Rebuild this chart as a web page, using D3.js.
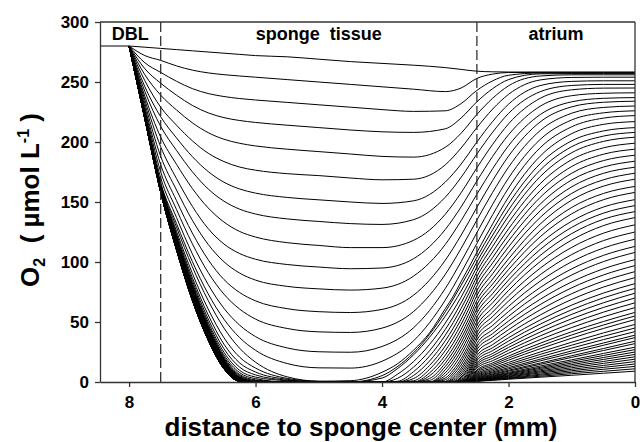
<!DOCTYPE html>
<html><head><meta charset="utf-8">
<script src="https://cdn.jsdelivr.net/npm/d3@7"></script>
<style>
html,body{margin:0;padding:0;background:#fff;}
svg{display:block;}
text{font-family:"Liberation Sans",Arial,Helvetica,sans-serif;font-weight:bold;fill:#000;}
</style></head><body>
<svg id="chart" width="642" height="442"></svg>
<script>
// distance to sponge center (mm) at which each profile is sampled
const xGrid = [8, 7.75, 7.5, 7.25, 7, 6.75, 6.5, 6.25, 6, 5.5, 5, 4.5, 4, 3.5, 3, 2.75, 2.5, 2.25, 2, 1.5, 1, 0.5, 0];
// extra samples near the tissue/atrium boundary (profiles 15..67)
const fineX = [3.75, 3.25, 2.875, 2.625];
// bulk seawater above the DBL
const bulkX = [8.46, 8];
const bulkO2 = 280;
// region boundaries (mm) and labels
const regionEdges = [8.46, 7.5, 2.5, 0];
const regionLabels = ["DBL", "sponge\u00a0\u00a0tissue", "atrium"];
const dashedBoundaries = [7.5, 2.5];
const xTicks = [8, 6, 4, 2, 0];
const yTicks = [0, 50, 100, 150, 200, 250, 300];

// O2 profiles (µmol L-1), one row per profile, values at xGrid
const profilesEarly = [
[280,279,278,277,276,275,274,273,272,271,269,267,265.5,264,262,260.5,259,258.5,258.3,258.3,258.3,258.3,258.3],
[280,272,268,263.4,259.9,257.6,256.1,255,254,252,250,248,246,244,242,245,253,256.6,257.9,258,258,258,258],
[280,266,258,250.6,244.5,240.4,237.9,236.2,235,233,231,229,227,225.5,226,232,243,251,255.6,257.5,257.5,257.5,257.5],
[280,261,249,239,230.5,224.3,220.3,217.9,216.3,214,212,210,208.5,208,211,220,233.5,244.5,252,256.8,257,257,257],
[280,256,239,226.7,216,207.8,202.3,198.9,196.7,194,192,190,188,187.4,195.6,207.3,223,236.5,246.8,255,256,256,256],
[280,251,229,214,201,190.7,183.7,179.1,176.5,173.6,172,170,168.5,169,181,195,212,227.5,239.7,251.7,253.8,254,254],
[280,246,221,203.4,187.8,175.4,166.5,160.8,157.4,153.8,151.8,150,148.8,151,166.6,181.6,200,217.2,231.5,247,250.5,251,251],
[280,242,213,193,175.2,160.9,150.7,144,140,135.9,133.8,132,131.3,135.3,154,170.5,190,208.2,223.8,241.9,247.1,248,248],
[280,238,204,181.4,161.3,145.1,133.3,125.4,120.8,116.1,113.8,112,112,118.1,139.8,157.7,178.5,198.1,215.1,236.4,243.5,244.9,245],
[280,235,196,169.5,146.4,127.9,115,107,102.3,97.9,95.8,94.4,95,102.8,127.1,145.9,167.5,188.1,206,229.8,238.6,240.6,241],
[280,232,188,160,134.8,114.7,100.2,90.7,84.9,79.7,77.6,76.6,78.2,88.3,114.6,134.4,156.5,177.8,196.9,222.8,233.5,236.4,237],
[280,229,181,151.1,124.1,102,85.4,74.5,67.6,61.1,58.6,57.9,60.5,72.4,101.5,122.3,145.5,168,188.2,216.7,229.3,233.1,234],
[280,227,175,143.7,115.2,91.3,73.2,60.7,52.4,44.6,41.8,41.3,44.9,58.8,89.7,111.3,135,158.1,179,209.5,224,228.8,230],
[280,225,170,137.1,106.8,81.3,61.4,47.3,37.8,28.4,25.2,24.8,29.6,45.3,77.9,100.3,124.5,148.2,169.9,202.1,218.4,224.3,226],
[280,224,166,132,100.4,73.5,52.3,36.9,26.4,15.4,11.8,11.6,17.3,34.4,68.3,91,115.5,139.5,161.6,195.2,212.7,219.9,222]
];
const profilesMid = [
[280,223,165,129,96,68,45,28,16.5,4.3,0.7,1.1,8.1,26.6,61.1,83.6,108,131.9,154.1,188.2,207,214.7,217],
[280,222.7,164.4,125.7,90.6,60.8,36.9,20.6,11.6,3,0.5,0,5.3,24.4,58.5,80.5,104,126.9,148.4,181.9,201,209.2,212],
[280,222.5,164,123.5,87,56,31.5,15.8,8.3,2.2,0,0,3.3,22.7,54.9,75.8,100,122.4,143.3,176.5,196.1,204.9,208],
[280,222.4,163.7,121.9,84.5,52.6,27.7,12.3,5.9,1.5,0,0,0,17.1,49.1,70.7,96,117.8,138.2,171.1,191.1,200.5,204],
[280,222.3,163.5,120.8,82.5,50,24.8,9.6,4.1,1,0,0,0,12.5,43.8,65.8,92,113.1,132.9,165.2,185.3,195.1,199],
[280,222.2,163.3,119.8,81,48.1,22.6,7.7,2.8,0,0,0,0,8.7,39,61.2,88,108.4,127.6,159.4,179.6,189.8,194],
[280,222.1,163.2,119.2,80,46.7,21,6.2,1.8,0,0,0,0,5.5,34.4,56.6,84,103.8,122.6,153.8,174,184.5,189],
[280,222.1,163.1,118.7,79.2,45.7,19.9,5.3,1.2,0,0,0,0,2.9,30.1,52.2,80,99.3,117.6,148.2,168.4,179.1,184],
[280,222,163.1,118.4,78.7,45,19.1,4.5,0.7,0,0,0,0,1,26.2,48,76,94.7,112.6,142.6,162.7,173.9,179],
[280,222,163,118.2,78.4,44.5,18.5,4,0.3,0,0,0,0,0,22.3,43.8,72,90.3,107.6,137.1,157.2,168.5,174],
[280,222,163,118,78,44,18,3.5,0,0,0,0,0,0,18.9,39.8,68,85.8,102.6,131.6,151.6,163.2,169],
[280,221.9,162.8,117.6,77.5,43.6,17.7,3.4,0,0,0,0,0,0,15.7,36.2,64.5,81.7,98,126,145.5,157.1,163],
[280,221.7,162.5,117.3,77.1,43.2,17.3,3.2,0,0,0,0,0,0,12.9,32.8,61,77.9,93.7,121,140.2,151.9,158],
[280,221.6,162.3,116.9,76.6,42.8,17,3.1,0,0,0,0,0,0,10.2,29.4,57.5,73.8,89.1,115.3,134,145.8,152]
];
const profilesLate = [
[280,221.5,162.1,116.6,76.2,42.4,16.7,3,0,0,0,0,0,0,7.7,26,54,69.9,84.9,110.4,128.9,140.7,147],
[280,221.3,161.9,116.2,75.8,42,16.4,2.8,0,0,0,0,0,0,5.4,22.7,50.5,66.1,80.7,105.4,123.7,135.6,142],
[280,221.2,161.7,115.9,75.4,41.6,16.1,2.7,0,0,0,0,0,0,3.3,19.4,47,62,76.3,100.3,118.3,130.3,137],
[280,221.1,161.5,115.6,74.9,41.2,15.9,2.6,0,0,0,0,0,0,1.8,16.8,44,58.3,71.8,94.8,112.2,124,131],
[280,221,161.3,115.2,74.6,40.9,15.6,2.5,0,0,0,0,0,0,0.5,14.1,41,54.6,67.4,89.4,106.2,117.8,125],
[280,220.9,161.1,114.9,74.2,40.6,15.3,2.4,0,0,0,0,0,0,0,11.6,38,50.9,63,84,100.2,111.6,119],
[280,220.7,160.9,114.6,73.8,40.2,15.1,2.2,0,0,0,0,0,0,0,9.5,35,47.2,58.7,78.7,94.3,105.5,113],
[280,220.6,160.7,114.4,73.5,39.9,14.8,2.1,0,0,0,0,0,0,0,7.6,32,43.6,54.7,74,89.2,100.3,108],
[280,220.5,160.6,114.1,73.1,39.6,14.6,2,0,0,0,0,0,0,0,5.8,29.5,40.4,50.8,68.9,83.4,94.3,102],
[280,220.4,160.4,113.8,72.8,39.3,14.3,1.9,0,0,0,0,0,0,0,4.2,27,37.4,47.2,64.5,78.5,89.2,97],
[280,220.3,160.2,113.6,72.4,39,14.1,1.8,0,0,0,0,0,0,0,3.2,24.5,34.3,43.6,60.1,73.6,84.1,92],
[280,220.2,160.1,113.3,72.1,38.7,13.9,1.7,0,0,0,0,0,0,0,2.2,22,31.2,40.1,55.8,68.8,79.1,87],
[280,220.1,159.9,113.1,71.8,38.4,13.7,1.6,0,0,0,0,0,0,0,1.4,20,28.6,36.9,51.7,64.1,74.1,82],
[280,220.1,159.8,112.8,71.5,38.2,13.5,1.6,0,0,0,0,0,0,0,0.9,18,26.2,34.1,48.2,60.2,70.1,78],
[280,220,159.6,112.6,71.3,37.9,13.3,1.5,0,0,0,0,0,0,0,0.4,16,23.8,31.2,44.8,56.4,66,74],
[280,219.9,159.5,112.4,71,37.7,13.1,1.4,0,0,0,0,0,0,0,0.2,14.5,21.8,28.8,41.6,52.7,62.1,70],
[280,219.8,159.4,112.2,70.7,37.5,12.9,1.3,0,0,0,0,0,0,0,0,13,19.8,26.4,38.4,49,58.2,66],
[280,219.8,159.3,112,70.5,37.3,12.8,1.3,0,0,0,0,0,0,0,0,11.5,17.8,24,35.3,45.4,54.3,62],
[280,219.7,159.1,111.8,70.3,37,12.6,1.2,0,0,0,0,0,0,0,0,10,15.9,21.6,32.3,41.9,50.4,58],
[280,219.6,159,111.6,70.1,36.8,12.4,1.1,0,0,0,0,0,0,0,0,9,14.5,19.9,30,39.2,47.5,55],
[280,219.6,158.9,111.5,69.8,36.7,12.3,1.1,0,0,0,0,0,0,0,0,8,13.1,18.2,27.7,36.5,44.6,52],
[280,219.5,158.8,111.3,69.6,36.5,12.1,1,0,0,0,0,0,0,0,0,7,11.7,16.3,25,33.2,40.9,48],
[280,219.4,158.7,111.2,69.5,36.3,12,0.9,0,0,0,0,0,0,0,0,6.2,10.5,14.8,23,30.7,38.1,45],
[280,219.4,158.6,111,69.3,36.2,11.9,0.9,0,0,0,0,0,0,0,0,5.5,9.4,13.4,21,28.3,35.3,42],
[280,219.3,158.6,110.9,69.1,36,11.8,0.8,0,0,0,0,0,0,0,0,4.8,8.4,12,19,25.9,32.5,39],
[280,219.3,158.5,110.8,69,35.9,11.7,0.8,0,0,0,0,0,0,0,0,4.2,7.6,10.9,17.6,24.1,30.6,37],
[280,219.2,158.4,110.7,68.8,35.7,11.6,0.7,0,0,0,0,0,0,0,0,3.7,6.7,9.8,15.8,21.9,27.9,34],
[280,219.2,158.3,110.6,68.7,35.6,11.5,0.7,0,0,0,0,0,0,0,0,3.2,6.1,9,14.7,20.5,26.2,32],
[280,219.2,158.3,110.5,68.6,35.5,11.4,0.7,0,0,0,0,0,0,0,0,2.8,5.4,8,13.3,18.5,23.8,29],
[280,219.1,158.2,110.4,68.5,35.4,11.3,0.6,0,0,0,0,0,0,0,0,2.4,4.9,7.3,12.2,17.2,22.1,27],
[280,219.1,158.2,110.3,68.4,35.3,11.3,0.6,0,0,0,0,0,0,0,0,2.1,4.4,6.7,11.3,15.8,20.4,25],
[280,219.1,158.1,110.2,68.3,35.3,11.2,0.6,0,0,0,0,0,0,0,0,1.8,3.9,6,10.3,14.5,18.8,23],
[280,219.1,158.1,110.2,68.2,35.2,11.1,0.6,0,0,0,0,0,0,0,0,1.5,3.5,5.4,9.3,13.2,17.1,21],
[280,219,158.1,110.1,68.1,35.1,11.1,0.5,0,0,0,0,0,0,0,0,1.3,3.1,4.8,8.4,11.9,15.5,19],
[280,219,158,110.1,68.1,35.1,11.1,0.5,0,0,0,0,0,0,0,0,1.1,2.7,4.3,7.5,10.6,13.8,17],
[280,219,158,110,68,35,11,0.5,0,0,0,0,0,0,0,0,0.9,2.3,3.7,6.5,9.4,12.2,15],
[280,219,158,110,68,35,11,0.5,0,0,0,0,0,0,0,0,0.8,2,3.2,5.7,8.1,10.6,13],
[280,219,158,110,68,35,11,0.5,0,0,0,0,0,0,0,0,0.7,1.7,2.8,4.8,6.9,8.9,11],
[280,219,158,110,68,35,11,0.5,0,0,0,0,0,0,0,0,0.6,1.4,2.3,4,5.6,7.3,9]
];
// values at fineX for profiles 15..28 and 29..67
const fineMid = [
[15.4,40.9,71.4,95.7],[13.1,39.6,69.2,92],[11.4,37.2,65,87.5],[6.7,31.2,59.4,82.9],
[3.2,26,54.2,78.3],[0.6,21.5,49.5,74],[0,17.4,44.8,69.7],[0,13.7,40.5,65.4],
[0,10.5,36.3,61.3],[0,7.5,32.2,57],[0,5.1,28.4,53],[0,2.9,25,49.3],
[0,1.3,21.7,45.9],[0,0,18.7,42.3]
];
const fineLate = [
[0,0,15.7,38.8],[0,0,12.7,35.3],[0,0,9.9,31.8],[0,0,7.7,28.9],[0,0,5.7,25.9],
[0,0,3.8,23],[0,0,2.4,20.4],[0,0,1.3,17.8],[0,0,0.4,15.5],[0,0,0,13.3],
[0,0,0,11.5],[0,0,0,9.7],[0,0,0,8.3],[0,0,0,7],[0,0,0,5.8],
[0,0,0,5],[0,0,0,4.2],[0,0,0,3.5],[0,0,0,2.8],[0,0,0,2.3],
[0,0,0,1.9],[0,0,0,1.6],[0,0,0,1.3],[0,0,0,1.1],[0,0,0,0.9],
[0,0,0,0.7],[0,0,0,0.6],[0,0,0,0.5],[0,0,0,0.4],[0,0,0,0.3],
[0,0,0,0.2],[0,0,0,0.15],[0,0,0,0.12],[0,0,0,0.1],[0,0,0,0.08],
[0,0,0,0.06],[0,0,0,0.05],[0,0,0,0.04],[0,0,0,0.03]
];
const profiles = [...profilesEarly, ...profilesMid, ...profilesLate];
const fineRows = [...profilesEarly.map(() => null), ...fineMid, ...fineLate];

const series = profiles.map((row, k) => {
  const pts = row.map((v, i) => [xGrid[i], v]);
  if (fineRows[k]) fineRows[k].forEach((v, j) => pts.push([fineX[j], v]));
  return pts.sort((a, b) => b[0] - a[0]);
});

const svg = d3.select("#chart");
svg.append("rect").attr("width", 642).attr("height", 442).attr("fill", "#fff");

const pLeft = 100, pRight = 635, pTop = 22, pBottom = 382;
const x = d3.scaleLinear().domain([8.46, 0]).range([pLeft, pRight]);
const y = d3.scaleLinear().domain([0, 300]).range([pBottom, pTop]);

const axisColor = "#333";

// profiles
const line = d3.line()
  .x(p => x(p[0]))
  .y(p => y(p[1]))
  .curve(d3.curveMonotoneX);

svg.append("g").selectAll("path").data(series).join("path")
  .attr("d", line)
  .attr("fill", "none")
  .attr("stroke", "#000")
  .attr("stroke-width", 1);

// bulk water segment
svg.append("path")
  .attr("d", d3.line().x(d => x(d)).y(() => y(bulkO2))(bulkX))
  .attr("fill", "none").attr("stroke", "#000").attr("stroke-width", 1);

// dashed boundaries
svg.append("g").selectAll("line").data(dashedBoundaries).join("line")
  .attr("x1", d => x(d)).attr("x2", d => x(d))
  .attr("y1", y(300)).attr("y2", y(0))
  .attr("stroke", "#222").attr("stroke-width", 1.2)
  .attr("stroke-dasharray", "10,4");

// frame (top and right)
svg.append("line").attr("x1", pLeft).attr("x2", pRight).attr("y1", pTop).attr("y2", pTop)
  .attr("stroke", axisColor).attr("stroke-width", 1.3);
svg.append("line").attr("x1", pRight).attr("x2", pRight).attr("y1", pTop).attr("y2", pBottom)
  .attr("stroke", axisColor).attr("stroke-width", 1.3);

// axes
const gx = svg.append("g").attr("transform", `translate(0,${pBottom})`)
  .call(d3.axisBottom(x).tickValues(xTicks).tickFormat(d3.format("d"))
    .tickSize(5).tickSizeOuter(0).tickPadding(9));
const gy = svg.append("g").attr("transform", `translate(${pLeft},0)`)
  .call(d3.axisLeft(y).tickValues(yTicks).tickFormat(d3.format("d"))
    .tickSize(5).tickSizeOuter(0).tickPadding(6));
[gx, gy].forEach(g => {
  g.select(".domain").attr("stroke", axisColor).attr("stroke-width", 1.3);
  g.selectAll(".tick line").attr("stroke", axisColor).attr("stroke-width", 1.3);
  g.selectAll("text").style("font-size", "17px").style("font-weight", "bold")
    .style("font-family", '"Liberation Sans",Arial,sans-serif').attr("fill", "#000");
});

// region labels
svg.append("g").selectAll("text").data(regionLabels).join("text")
  .attr("x", (d, i) => x((regionEdges[i] + regionEdges[i + 1]) / 2))
  .attr("y", pTop + 18)
  .attr("text-anchor", "middle")
  .style("font-size", "18px")
  .text(d => d);

// axis titles
svg.append("text")
  .attr("x", 361).attr("y", 436)
  .attr("text-anchor", "middle")
  .style("font-size", "26px")
  .text("distance to sponge center (mm)");

const yt = svg.append("text")
  .attr("transform", "translate(39,200) rotate(-90)")
  .attr("text-anchor", "middle")
  .style("font-size", "26px");
yt.append("tspan").text("O");
yt.append("tspan").attr("dy", 6).style("font-size", "16px").text("2");
yt.append("tspan").attr("dy", -6).text("\u00a0\u00a0(\u00a0µmol L");
yt.append("tspan").attr("dy", -10).style("font-size", "16px").text("-1");
yt.append("tspan").attr("dy", 10).text("\u00a0)");
</script>
</body></html>
